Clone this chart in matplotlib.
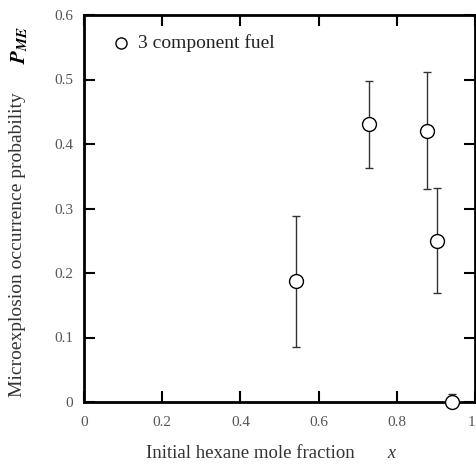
import matplotlib.pyplot as plt

# 3 component fuel data
x = [0.542, 0.729, 0.877, 0.903, 0.941]
p_me = [0.188, 0.431, 0.420, 0.250, 0.0]
err_lo = [0.103, 0.068, 0.090, 0.081, 0.0]
err_hi = [0.100, 0.067, 0.092, 0.082, 0.012]

xticks = [0, 0.2, 0.4, 0.6, 0.8, 1]
xticklabels = ["0", "0.2", "0.4", "0.6", "0.8", "1"]
yticks = [0, 0.1, 0.2, 0.3, 0.4, 0.5, 0.6]
yticklabels = ["0", "0.1", "0.2", "0.3", "0.4", "0.5", "0.6"]

plt.rcParams['font.family'] = ['Liberation Serif', 'DejaVu Serif']
plt.rcParams['mathtext.fontset'] = 'stix'

fig = plt.figure(figsize=(4.77, 4.66), dpi=100)
W, H = 477, 466
ax = fig.add_axes([84 / W, 1 - 402 / H, (475 - 84) / W, (402 - 15) / H])

ax.errorbar(x, p_me, yerr=[err_lo, err_hi], fmt='o', ms=10, mfc='white',
            mec='black', mew=1.0, ecolor='#333333', elinewidth=1.0,
            capsize=3, capthick=1.0, clip_on=False, zorder=3)

ax.set_xlim(0, 1)
ax.set_ylim(0, 0.6)
ax.set_xticks(xticks)
ax.set_xticklabels(xticklabels)
ax.set_yticks(yticks)
ax.set_yticklabels(yticklabels)
ax.tick_params(direction='in', length=8, width=1.5, labelsize=11,
               labelcolor='#555555', pad=10, top=True, right=True)
ax.tick_params(axis='y', pad=8)
# keep the last x label inside the figure
ax.get_xticklabels()[-1].set_horizontalalignment('right')
for s in ax.spines.values():
    s.set_linewidth(2)

# legend drawn by hand
ax.plot([0.095], [0.928], 'o', ms=8, mfc='white', mec='black', mew=1.0,
        transform=ax.transAxes)
ax.text(0.137, 0.928, "3 component fuel", transform=ax.transAxes,
        fontsize=14, va='center', color='#222222')

fig.text(250 / W, 1 - 454 / H, "Initial hexane mole fraction", fontsize=13.5,
         ha='center', va='center', color='#333333')
fig.text(391 / W, 1 - 453 / H, "x", fontsize=13, style='italic',
         ha='center', va='center', color='#333333')
fig.text(18 / W, 1 - 245 / H, "Microexplosion occurrence probability",
         fontsize=14, rotation=90, ha='center', va='center', color='#333333')
fig.text(20 / W, 1 - 45 / H, r"$\boldsymbol{P}_{\boldsymbol{ME}}$", fontsize=15,
         rotation=90, ha='center', va='center')

fig.savefig("out.png", dpi=100)
